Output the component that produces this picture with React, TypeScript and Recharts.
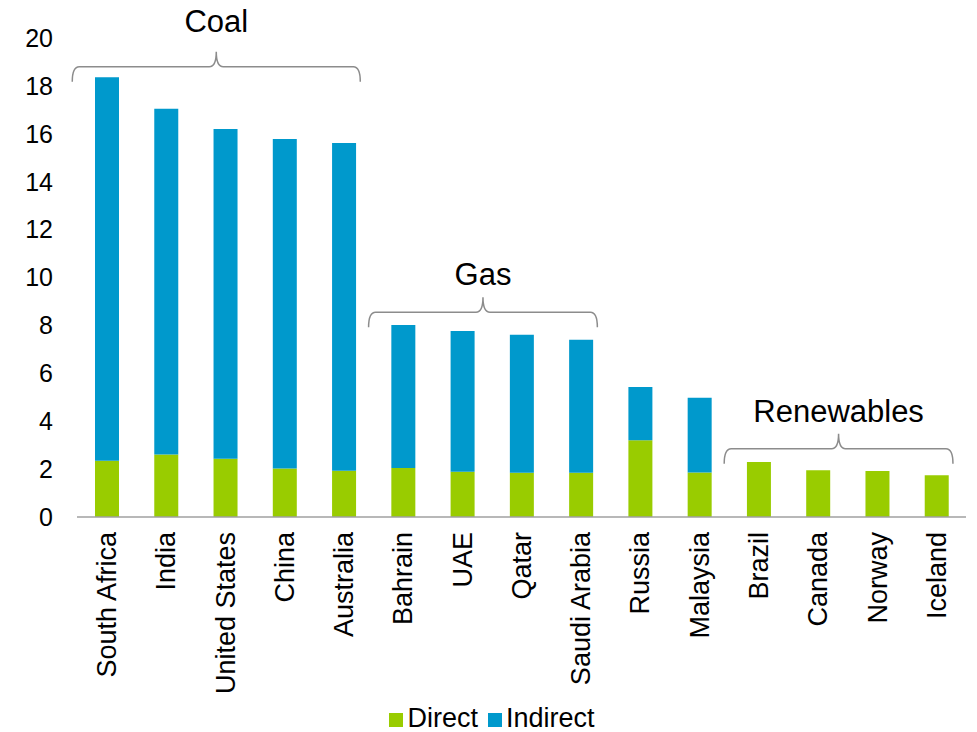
import React from 'react';
import {
  BarChart,
  Bar,
  XAxis,
  YAxis,
  Legend,
  ReferenceLine,
} from 'recharts';

const countries = [
  'South Africa', 'India', 'United States', 'China', 'Australia',
  'Bahrain', 'UAE', 'Qatar', 'Saudi Arabia', 'Russia', 'Malaysia',
  'Brazil', 'Canada', 'Norway', 'Iceland',
];
const direct = [2.35, 2.61, 2.43, 2.03, 1.93, 2.05, 1.89, 1.85, 1.85, 3.2, 1.86, 2.3, 1.95, 1.92, 1.74];
const indirect = [16.01, 14.44, 13.77, 13.75, 13.69, 5.97, 5.88, 5.76, 5.55, 2.23, 3.12, 0, 0, 0, 0];
const yTicks = [0, 2, 4, 6, 8, 10, 12, 14, 16, 18, 20];

// brace groups: first/last category index, level = value where the brace sits
const groupLabels = ['Coal', 'Gas', 'Renewables'];
const groupFirst = [0, 5, 11];
const groupLast = [4, 8, 14];
const groupLevel = [18.8, 8.55, 2.85];

const data = countries.map((name, i) => ({ name, Direct: direct[i], Indirect: indirect[i] }));

const GREEN = '#99CC00';
const BLUE = '#0099CC';
const FONT = '"Liberation Sans", Arial, sans-serif';
const HALF_BAND = 889 / countries.length / 2;

const CountryTick = (props: any) => {
  const { x, y, payload } = props;
  return (
    <g transform={`translate(${x},${y})`}>
      <text x={0} y={0} dy="0.35em" textAnchor="end" transform="rotate(-90)"
        fontSize={27} fill="#000" fontFamily={FONT}>
        {payload.value}
      </text>
    </g>
  );
};

const makeBrace = (label: string, labelGap: number) => (props: any) => {
  const { x1, x2, y1 } = props;
  const y = y1;
  const xm = (x1 + x2) / 2;
  const h = 15;
  const r = 7;
  const d = `M${x1},${y + h} Q${x1},${y} ${x1 + r},${y} L${xm - r},${y} Q${xm},${y} ${xm},${y - h} Q${xm},${y} ${xm + r},${y} L${x2 - r},${y} Q${x2},${y} ${x2},${y + h}`;
  return (
    <g>
      <path d={d} fill="none" stroke="#8c8c8c" strokeWidth={1.5} />
      <text x={xm} y={y - h - labelGap} textAnchor="middle" fontSize={31} fill="#000" fontFamily={FONT}>
        {label}
      </text>
    </g>
  );
};

export default function App() {
  return (
    <div style={{ position: 'absolute', left: 0, top: 0, background: '#fff' }}>
      <BarChart
        width={977}
        height={732}
        data={data}
        margin={{ top: 38, right: 11, bottom: 0, left: 0 }}
        barSize={24}
        style={{ fontFamily: FONT }}
      >
        <XAxis
          dataKey="name"
          interval={0}
          height={185}
          axisLine={{ stroke: '#a0a0a0', strokeWidth: 1.5 }}
          tickLine={false}
          tickMargin={9}
          tick={<CountryTick />}
        />
        <XAxis
          xAxisId="brace"
          type="number"
          domain={[0, countries.length - 1]}
          padding={{ left: HALF_BAND, right: HALF_BAND }}
          allowDataOverflow
          hide
        />
        <YAxis
          domain={[0, 20]}
          ticks={yTicks}
          width={77}
          axisLine={false}
          tickLine={false}
          tickMargin={18}
          tick={{ fontSize: 25, fill: '#000' }}
        />
        <Bar dataKey="Direct" stackId="a" fill={GREEN} isAnimationActive={false} />
        <Bar dataKey="Indirect" stackId="a" fill={BLUE} isAnimationActive={false} />
        {groupLabels.map((label, i) => (
          <ReferenceLine
            key={label}
            xAxisId="brace"
            ifOverflow="visible"
            segment={[
              { x: groupFirst[i] - 0.58, y: groupLevel[i] },
              { x: groupLast[i] + 0.28, y: groupLevel[i] },
            ]}
            shape={makeBrace(label, i === 0 ? 20 : 12)}
          />
        ))}
        <Legend
          verticalAlign="bottom"
          height={30}
          iconType="square"
          iconSize={14}
          wrapperStyle={{ fontSize: 27, left: 14, top: 703 }}
          formatter={(value: string) => <span style={{ color: '#000' }}>{value}</span>}
        />
      </BarChart>
    </div>
  );
}
